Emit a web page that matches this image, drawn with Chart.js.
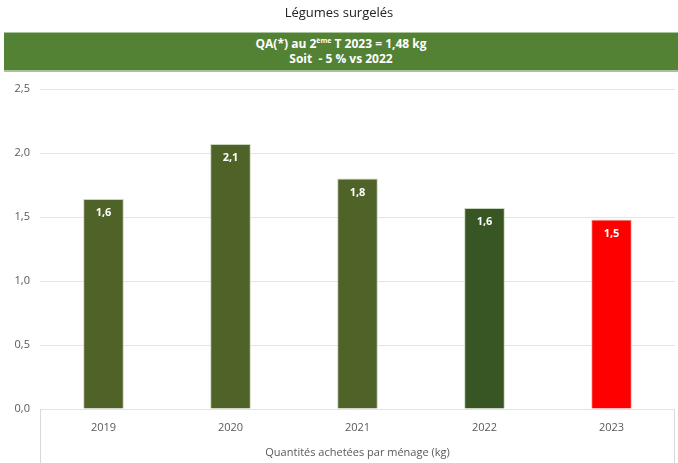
<!DOCTYPE html>
<html>
<head>
<meta charset="utf-8">
<script src="https://cdn.jsdelivr.net/npm/chart.js@4.4.0/dist/chart.umd.min.js"></script>
<style>
  body { margin: 0; background: #fff; font-family: "Open Sans", sans-serif; }
  #wrap { position: relative; width: 678px; height: 463px; }
  #titre { position: absolute; left: 0; top: 3px; width: 678px; text-align: center; font-size: 13px; color: #222; }
  #bandeau { position: absolute; left: 4px; top: 32px; width: 674px; height: 40px; background: #548235;
             border-top: 1px solid #a9c49a; border-bottom: 2px solid #a9c49a; box-sizing: border-box;
             color: #fff; font-weight: bold; font-size: 12px; text-align: center; line-height: 15px; padding-top: 3px; }
  #bandeau sup { font-size: 7px; vertical-align: 5px; line-height: 0; }
  canvas { position: absolute; left: 0; top: 0; }
</style>
</head>
<body>
<div id="wrap">
  <canvas id="graphe" width="678" height="463"></canvas>
  <div id="titre">Légumes surgelés</div>
  <div id="bandeau">QA(*) au 2<sup>ème</sup> T 2023 = 1,48 kg<br>Soit&nbsp; - 5 % vs 2022</div>
</div>
<script>
// donnees
const annees = ["2019", "2020", "2021", "2022", "2023"];
const quantites = [1.64, 2.07, 1.80, 1.57, 1.48];
const couleurs = ["#4f6228", "#4f6228", "#4f6228", "#375623", "#ff0000"];
const ticksY = [0, 0.5, 1, 1.5, 2, 2.5];

const fmt = v => v.toFixed(1).replace('.', ',');

// etiquettes de valeur dans le haut des barres
const etiquettes = {
  id: 'etiquettes',
  afterDatasetsDraw(chart) {
    const ctx = chart.ctx;
    const meta = chart.getDatasetMeta(0);
    ctx.save();
    ctx.font = 'bold 11px "Open Sans", sans-serif';
    ctx.fillStyle = '#ffffff';
    ctx.textAlign = 'center';
    ctx.textBaseline = 'middle';
    meta.data.forEach((bar, i) => {
      ctx.fillText(fmt(quantites[i]), bar.x, bar.y + 14);
    });
    ctx.restore();
  }
};

// bordures gauche/droite de la zone des categories
const cadre = {
  id: 'cadre',
  afterDraw(chart) {
    const ctx = chart.ctx;
    const a = chart.chartArea;
    ctx.save();
    ctx.strokeStyle = '#d9d9d9';
    ctx.lineWidth = 1;
    ctx.beginPath();
    ctx.moveTo(a.left + 0.5, a.bottom);
    ctx.lineTo(a.left + 0.5, chart.height);
    ctx.moveTo(a.right - 0.5, a.bottom);
    ctx.lineTo(a.right - 0.5, chart.height);
    ctx.stroke();
    ctx.restore();
  }
};

new Chart(document.getElementById('graphe'), {
  type: 'bar',
  data: {
    labels: annees,
    datasets: [{
      data: quantites,
      backgroundColor: couleurs,
      borderColor: '#c9d6bd',
      borderWidth: 1,
      categoryPercentage: 1,
      barPercentage: 0.32
    }]
  },
  options: {
    responsive: false,
    animation: false,
    layout: { padding: { top: 89, right: 3, left: 0, bottom: 0 } },
    plugins: { legend: { display: false }, tooltip: { enabled: false } },
    scales: {
      x: {
        grid: { display: false },
        border: { display: false },
        ticks: { color: '#595959', font: { size: 11, family: '"Open Sans", sans-serif' }, padding: 4 },
        title: { display: true, text: 'Quantités achetées par ménage (kg)', color: '#595959',
                 font: { size: 11, family: '"Open Sans", sans-serif' }, padding: { top: 4, bottom: 4 } },
        afterFit: s => { s.height = 54; }
      },
      y: {
        min: 0, max: 2.5,
        afterBuildTicks: s => { s.ticks = ticksY.map(v => ({ value: v })); },
        grid: { color: '#e3e3e3', drawTicks: false },
        border: { display: false },
        ticks: { color: '#595959', font: { size: 11, family: '"Open Sans", sans-serif' }, padding: 10,
                 callback: v => fmt(v) },
        afterFit: s => { s.width = 40; }
      }
    }
  },
  plugins: [etiquettes, cadre]
});
</script>
</body>
</html>
